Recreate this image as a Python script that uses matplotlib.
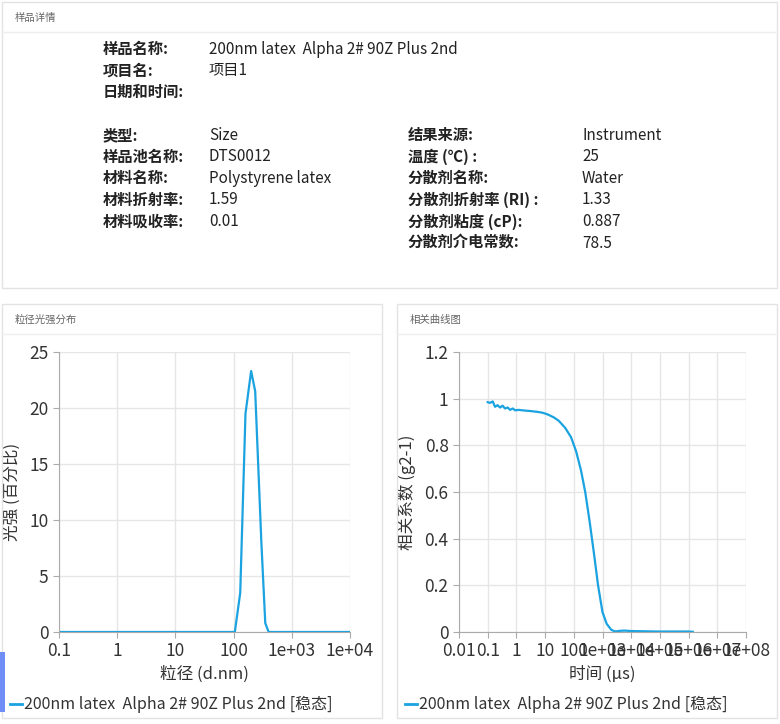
import numpy as np
import matplotlib.pyplot as plt
from matplotlib.patches import Rectangle

plt.rcParams["font.family"] = ["Noto Sans CJK SC", "DejaVu Sans"]

line_color = "#1aa3e0"
grid_color = "#e6e6e6"
text_color = "#333333"

sample_rows = [("样品名称:", "200nm latex  Alpha 2# 90Z Plus 2nd"), ("项目名:", "项目1"), ("日期和时间:", "")]
left_rows = [("类型:", "Size"), ("样品池名称:", "DTS0012"), ("材料名称:", "Polystyrene latex"),
             ("材料折射率:", "1.59"), ("材料吸收率:", "0.01")]
right_rows = [("结果来源:", "Instrument"), ("温度 (℃) :", "25"), ("分散剂名称:", "Water"),
              ("分散剂折射率 (RI) :", "1.33"), ("分散剂粘度 (cP):", "0.887"), ("分散剂介电常数:", "78.5")]

size_nm = [0.1, 100, 105, 130, 160, 200, 235, 300, 350, 400, 1e4]
intensity = [0, 0, 0, 3.5, 19.5, 23.3, 21.5, 8.0, 0.8, 0, 0]

tau_us = [0.1, 0.12, 0.15, 0.18, 0.22, 0.27, 0.33, 0.4, 0.5, 0.6, 0.75, 0.9, 1.2, 1.6, 2, 3, 5,
          8, 12, 20, 30, 50, 80, 120, 180, 250, 350, 500, 700, 1000, 1400, 2000, 2600, 3200,
          4000, 6000, 1e4, 3e4, 1e5, 3e5, 1e6, 1.4e6]
g2 = [0.985, 0.982, 0.988, 0.965, 0.972, 0.962, 0.970, 0.958, 0.962, 0.952, 0.958, 0.950,
      0.952, 0.950, 0.949, 0.947, 0.944, 0.940, 0.933, 0.920, 0.905, 0.875, 0.835, 0.775,
      0.690, 0.600, 0.480, 0.340, 0.200, 0.085, 0.035, 0.010, 0.003, 0.003, 0.005, 0.006,
      0.004, 0.003, 0.002, 0.002, 0.002, 0.001]

fig = plt.figure(figsize=(7.8, 7.24), dpi=100)
W, H = 780, 724


def box(x0, y0, x1, y1, title, header_h=30):
    fig.patches.append(Rectangle((x0 / W, 1 - y1 / H), (x1 - x0) / W, (y1 - y0) / H,
                                 transform=fig.transFigure, fill=False, ec="#e3e3e3", lw=1))
    fig.lines.append(plt.Line2D([x0 / W, x1 / W], [1 - (y0 + header_h) / H] * 2,
                                transform=fig.transFigure, color="#eeeeee", lw=1))
    fig.text((x0 + 13) / W, 1 - (y0 + 16) / H, title, fontsize=7.5, color="#666666", va="center")


def row(x_lab, x_val, y, lab, val):
    fig.text(x_lab / W, 1 - y / H, lab, fontsize=11, fontweight="bold", color="#222222", va="center")
    fig.text(x_val / W, 1 - y / H, val, fontsize=11, color="#222222", va="center")


box(2, 2, 777, 288, "样品详情")
for i, (a, b) in enumerate(sample_rows):
    row(103, 209, 49 + i * 21.5, a, b)
for i, (a, b) in enumerate(left_rows):
    row(103, 209, 135 + i * 21.6, a, b)
for i, (a, b) in enumerate(right_rows):
    row(408, 582, 135 + i * 21.6, a, b)

box(2, 304, 382, 718, "粒径光强分布")
box(397, 304, 777, 718, "相关曲线图")
fig.patches.append(Rectangle((0, 1 - 712 / H), 5 / W, 60 / H, transform=fig.transFigure,
                             color="#6f8ff7", lw=0))


def style(ax):
    ax.grid(True, color=grid_color, lw=1)
    ax.set_axisbelow(True)
    for s in ["top", "right"]:
        ax.spines[s].set_visible(False)
    for s in ["left", "bottom"]:
        ax.spines[s].set_color("#aaaaaa")
    ax.tick_params(colors="#aaaaaa", labelcolor=text_color, labelsize=12.5, length=4)
    ax.minorticks_off()


ax1 = fig.add_axes([59 / W, 1 - 632 / H, 291 / W, 280 / H])
ax1.plot(size_nm, intensity, color=line_color, lw=1.6)
ax1.set_xscale("log")
ax1.set_xlim(0.1, 1e4)
ax1.set_ylim(0, 25)
ax1.set_xticks([0.1, 1, 10, 100, 1e3, 1e4])
ax1.set_xticklabels(["0.1", "1", "10", "100", "1e+03", "1e+04"])
ax1.set_yticks([0, 5, 10, 15, 20, 25])
style(ax1)
ax1.set_xlabel("粒径 (d.nm)", fontsize=12, color=text_color, labelpad=4)
ax1.set_ylabel("光强 (百分比)", fontsize=12, color=text_color, labelpad=6)

ax2 = fig.add_axes([459 / W, 1 - 632 / H, 287 / W, 280 / H])
ax2.plot(tau_us, g2, color=line_color, lw=1.6)
ax2.set_xscale("log")
ax2.set_xlim(0.01, 1e8)
ax2.set_ylim(0, 1.2)
ax2.set_xticks([10.0 ** k for k in range(-2, 9)])
ax2.set_xticklabels(["0.01", "0.1", "1", "10", "100"] + ["1e+%02d" % k for k in range(3, 9)])
ax2.set_yticks([0, 0.2, 0.4, 0.6, 0.8, 1, 1.2])
ax2.set_yticklabels(["0", "0.2", "0.4", "0.6", "0.8", "1", "1.2"])
style(ax2)
ax2.set_xlabel("时间 (µs)", fontsize=12, color=text_color, labelpad=4)
ax2.set_ylabel("相关系数 (g2-1)", fontsize=12, color=text_color, labelpad=6)

for x0 in (10, 405):
    fig.lines.append(plt.Line2D([x0 / W, (x0 + 12) / W], [1 - 704 / H] * 2,
                                transform=fig.transFigure, color=line_color, lw=2))
    fig.text((x0 + 14) / W, 1 - 704 / H, "200nm latex  Alpha 2# 90Z Plus 2nd [稳态]",
             fontsize=11.5, color=text_color, va="center")

fig.savefig("out.png", dpi=100, facecolor="white")
